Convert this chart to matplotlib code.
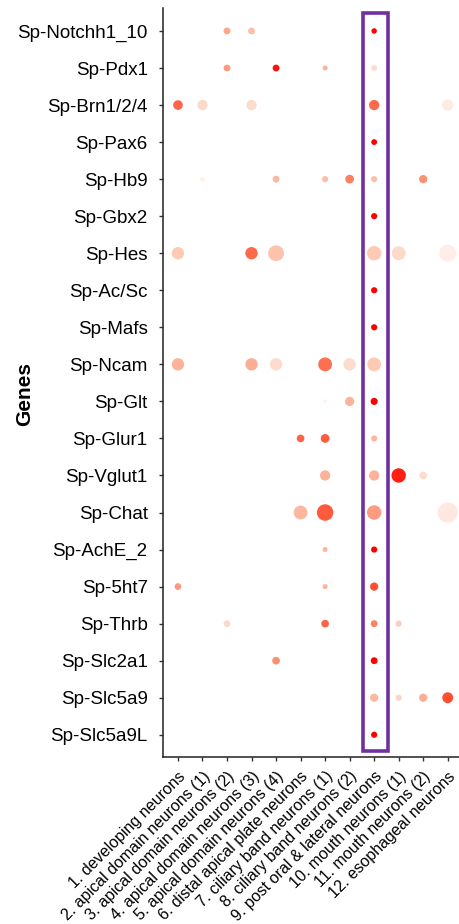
import numpy as np
import matplotlib
matplotlib.use("Agg")
import matplotlib.pyplot as plt
from matplotlib.colors import LinearSegmentedColormap
from matplotlib.patches import Rectangle

plt.rcParams['font.family'] = ['Liberation Sans', 'DejaVu Sans']

genes = ["Sp-Notchh1_10", "Sp-Pdx1", "Sp-Brn1/2/4", "Sp-Pax6", "Sp-Hb9", "Sp-Gbx2",
         "Sp-Hes", "Sp-Ac/Sc", "Sp-Mafs", "Sp-Ncam", "Sp-Glt", "Sp-Glur1", "Sp-Vglut1",
         "Sp-Chat", "Sp-AchE_2", "Sp-5ht7", "Sp-Thrb", "Sp-Slc2a1", "Sp-Slc5a9", "Sp-Slc5a9L"]

clusters = ["1. developing neurons", "2. apical domain neurons (1)",
            "3. apical domain neurons (2)", "4. apical domain neurons (3)",
            "5. apical domain neurons (4)", "6. distal apical plate neurons",
            "7. ciliary band neurons (1)", "8. ciliary band neurons (2)",
            "9. post oral & lateral neurons", "10. mouth neurons (1)",
            "11. mouth neurons (2)", "12. esophageal neurons"]

# percent of cells expressing (dot size); 0 = no dot
pct_expressed = [
    [0, 0, 11, 11, 0, 0, 0, 0, 7, 0, 0, 0],
    [0, 0, 11, 0, 11, 0, 6, 0, 8, 0, 0, 0],
    [22, 25, 0, 25, 0, 0, 0, 0, 25, 0, 0, 30],
    [0, 0, 0, 0, 0, 0, 0, 0, 8, 0, 0, 0],
    [0, 6, 0, 0, 11, 0, 9, 18, 9, 0, 16, 0],
    [0, 0, 0, 0, 0, 0, 0, 0, 9, 0, 0, 0],
    [36, 0, 0, 36, 59, 0, 0, 0, 49, 45, 0, 69],
    [0, 0, 0, 0, 0, 0, 0, 0, 9, 0, 0, 0],
    [0, 0, 0, 0, 0, 0, 0, 0, 9, 0, 0, 0],
    [36, 0, 0, 36, 36, 0, 45, 36, 45, 0, 0, 0],
    [0, 0, 0, 0, 0, 0, 4, 20, 12, 0, 0, 0],
    [0, 0, 0, 0, 0, 14, 18, 0, 9, 0, 0, 0],
    [0, 0, 0, 0, 0, 0, 25, 0, 25, 49, 14, 0],
    [0, 0, 0, 0, 0, 45, 64, 0, 49, 0, 0, 94],
    [0, 0, 0, 0, 0, 0, 6, 0, 9, 0, 0, 0],
    [11, 0, 0, 0, 0, 0, 6, 0, 16, 0, 0, 0],
    [0, 0, 11, 0, 0, 0, 14, 0, 11, 9, 0, 0],
    [0, 0, 0, 0, 14, 0, 0, 0, 11, 0, 0, 0],
    [0, 0, 0, 0, 0, 0, 0, 0, 16, 9, 16, 28],
    [0, 0, 0, 0, 0, 0, 0, 0, 9, 0, 0, 0],
]

# scaled average expression (dot colour)
avg_expression = [
    [0, 0, .45, .35, 0, 0, 0, 0, 1.0, 0, 0, 0],
    [0, 0, .50, 0, .95, 0, .40, 0, .20, 0, 0, 0],
    [.72, .22, 0, .20, 0, 0, 0, 0, .70, 0, 0, .08],
    [0, 0, 0, 0, 0, 0, 0, 0, 1.0, 0, 0, 0],
    [0, .03, 0, 0, .38, 0, .35, .62, .35, 0, .55, 0],
    [0, 0, 0, 0, 0, 0, 0, 0, 1.0, 0, 0, 0],
    [.30, 0, 0, .70, .33, 0, 0, 0, .30, .22, 0, .06],
    [0, 0, 0, 0, 0, 0, 0, 0, 1.0, 0, 0, 0],
    [0, 0, 0, 0, 0, 0, 0, 0, 1.0, 0, 0, 0],
    [.40, 0, 0, .42, .20, 0, .68, .20, .30, 0, 0, 0],
    [0, 0, 0, 0, 0, 0, .02, .40, 1.0, 0, 0, 0],
    [0, 0, 0, 0, 0, .72, .75, 0, .38, 0, 0, 0],
    [0, 0, 0, 0, 0, 0, .40, 0, .40, .92, .20, 0],
    [0, 0, 0, 0, 0, .38, .75, 0, .50, 0, 0, .10],
    [0, 0, 0, 0, 0, 0, .38, 0, 1.0, 0, 0, 0],
    [.50, 0, 0, 0, 0, 0, .40, 0, .80, 0, 0, 0],
    [0, 0, .22, 0, 0, 0, .72, 0, .62, .28, 0, 0],
    [0, 0, 0, 0, .55, 0, 0, 0, 1.0, 0, 0, 0],
    [0, 0, 0, 0, 0, 0, 0, 0, .38, .25, .42, .80],
    [0, 0, 0, 0, 0, 0, 0, 0, 1.0, 0, 0, 0],
]

highlight_cluster = "9. post oral & lateral neurons"

cmap = LinearSegmentedColormap.from_list(
    "dot", [(0.0, "#fff5f0"), (0.25, "#fdd5c4"), (0.45, "#fca78a"),
            (0.65, "#fb7a5a"), (0.8, "#ff4d30"), (1.0, "#ff0000")])

fig = plt.figure(figsize=(4.6, 9.24), dpi=100)
ax = fig.add_axes([163 / 460, 1 - 757 / 924, 297 / 460, 749 / 924])

pct = np.array(pct_expressed, dtype=float)
col = np.array(avg_expression, dtype=float)
rows, cols = np.nonzero(pct)
xs = cols + 1
ys = rows
ax.scatter(xs, ys, s=pct[rows, cols] * 2.2, c=col[rows, cols], cmap=cmap,
           vmin=0, vmax=1, linewidths=0, zorder=3)

ax.set_xlim(0.39, 12.5)
ax.set_ylim(19.6, -0.62)

ax.set_yticks(range(len(genes)))
ax.set_yticklabels(genes, fontsize=13.5)
ax.set_xticks(range(1, len(clusters) + 1))
ax.set_xticklabels(clusters, fontsize=11.5, rotation=45, ha='right',
                   va='top', rotation_mode='anchor')

ax.tick_params(axis='y', length=3, width=1, color='#333333', pad=8)
ax.tick_params(axis='x', length=3, width=1, color='#333333', pad=5.5)

for s in ['top', 'right']:
    ax.spines[s].set_visible(False)
for s in ['left', 'bottom']:
    ax.spines[s].set_linewidth(1.1)
    ax.spines[s].set_color('#222222')

ax.set_ylabel("Genes", fontsize=15, fontweight='bold', va='center')
ax.yaxis.set_label_coords(-0.465, 0.485)

hx = clusters.index(highlight_cluster) + 1
rect = Rectangle((hx - 0.47, -0.48), 1.02, 19.91, fill=False,
                 edgecolor='#7030a0', linewidth=2.6, zorder=4, clip_on=False)
ax.add_patch(rect)

fig.savefig("out.png", dpi=100)
